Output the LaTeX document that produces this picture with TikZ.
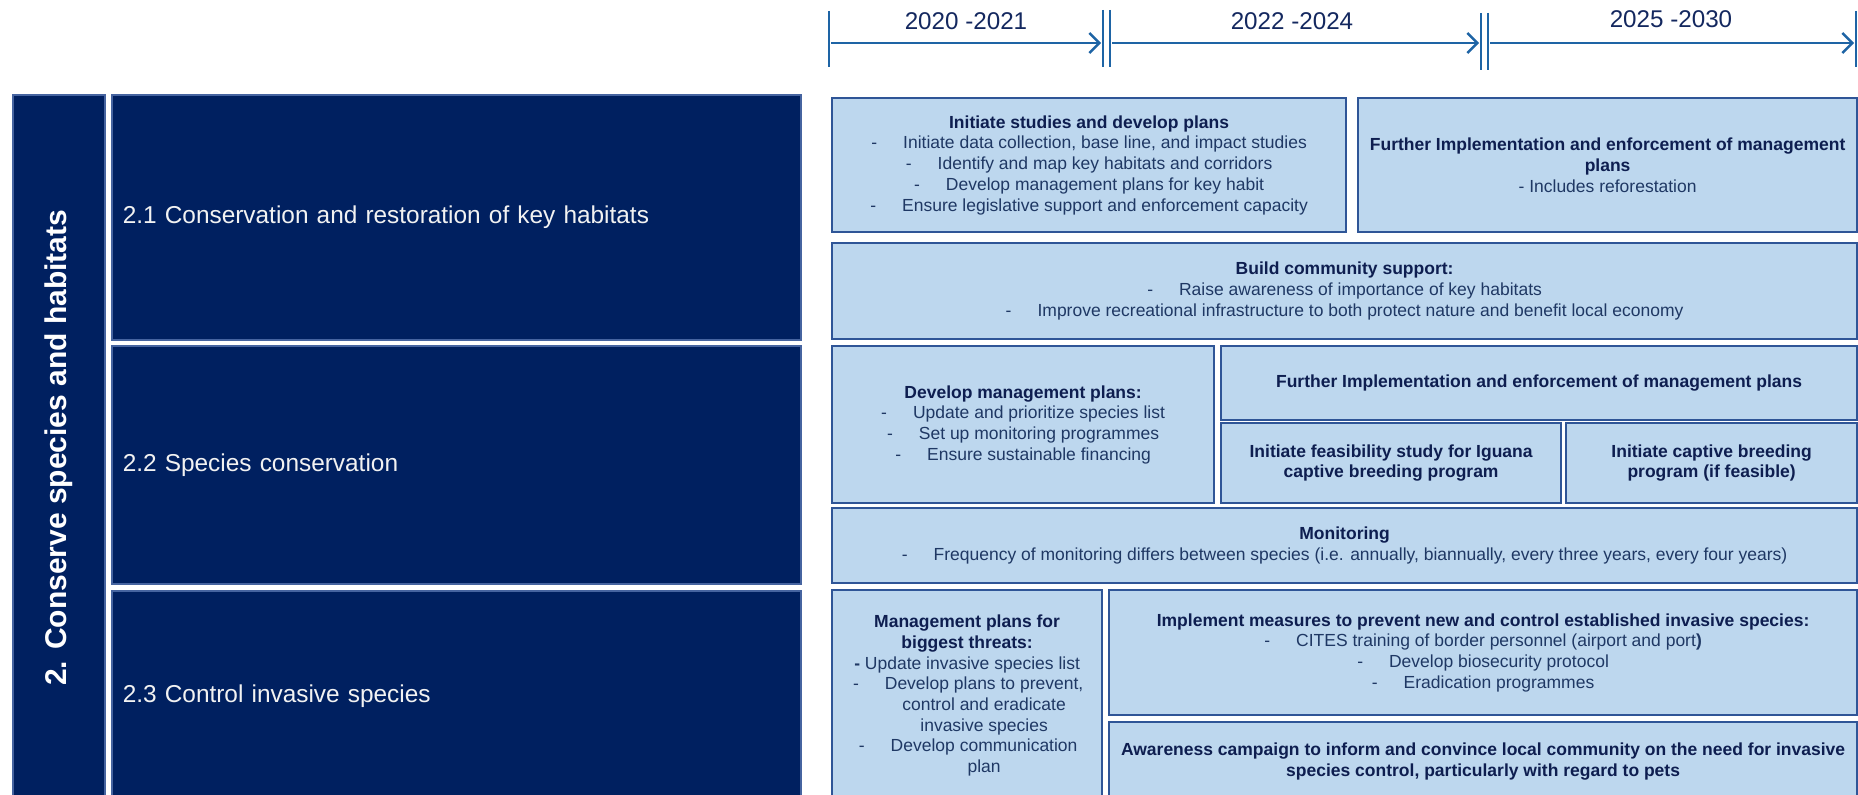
\documentclass[tikz,border=0pt]{standalone}
\usepackage{fontspec}
\setmainfont{Liberation Sans}
\usetikzlibrary{arrows.meta}

\definecolor{navy}{RGB}{0,32,96}
\definecolor{navyedge}{RGB}{70,100,160}
\definecolor{paleblue}{RGB}{189,215,238}
\definecolor{boxedge}{RGB}{47,85,151}
\definecolor{bodytext}{RGB}{31,56,100}
\definecolor{headtext}{RGB}{14,30,80}
\definecolor{lineblue}{RGB}{30,100,165}
\definecolor{yeartext}{RGB}{20,40,95}

% bullet dash followed by a tab-like gap
\newcommand\dsh{-\hspace{13pt}}
% bold heading line inside a light box
\newcommand\hd[1]{{\bfseries\color{headtext}#1}}

\begin{document}
\begin{tikzpicture}[x=0.5pt,y=-0.5pt,
  colbox/.style={draw=navyedge, line width=0.8pt, fill=navy, anchor=north west, inner sep=0pt},
  darkbox/.style={draw=navyedge, line width=0.8pt, fill=navy, text=white!95!black,
    inner xsep=5.5pt, inner ysep=0pt, anchor=north west, align=left,
    font=\fontsize{12.2}{14}\selectfont},
  lightbox/.style={draw=boxedge, line width=1.1pt, fill=paleblue, text=bodytext,
    anchor=north west, align=center, inner sep=0pt,
    font=\fontsize{8.75}{10.35}\selectfont},
  tickline/.style={draw=lineblue, line width=1.2pt},
  period/.style={draw=lineblue, line width=1.2pt,
    -{Straight Barb[length=5pt,width=10pt,line width=1.2pt]}},
  year/.style={text=yeartext, font=\fontsize{12.1}{14}\selectfont, inner sep=0pt},
]
\useasboundingbox (0,0) rectangle (1858,795);
\clip (0,0) rectangle (1858,795);

% ---------- timeline ----------
\coordinate (k0t) at (829,11);  \coordinate (k0b) at (829,67);
\coordinate (k1t) at (1103,10); \coordinate (k1b) at (1103,67);
\coordinate (k1u) at (1110,10); \coordinate (k1v) at (1110,67);
\coordinate (k2t) at (1481,13); \coordinate (k2b) at (1481,70);
\coordinate (k2u) at (1488,13); \coordinate (k2v) at (1488,70);
\coordinate (k3t) at (1856,11); \coordinate (k3b) at (1856,67);
\draw[tickline] (k0t) -- (k0b);
\draw[tickline] (k1t) -- (k1b);
\draw[tickline] (k1u) -- (k1v);
\draw[tickline] (k2t) -- (k2b);
\draw[tickline] (k2u) -- (k2v);
\draw[tickline] (k3t) -- (k3b);

\coordinate (a0) at (831,43);  \coordinate (a1) at (1101,43);
\coordinate (b0) at (1112,43); \coordinate (b1) at (1479,43);
\coordinate (c0) at (1490,43); \coordinate (c1) at (1854,43);
\draw[period] (a0) -- (a1);
\draw[period] (b0) -- (b1);
\draw[period] (c0) -- (c1);

\node[year] (y1) at (966,21) {2020 -2021};
\node[year] (y2) at (1292,21) {2022 -2024};
\node[year] (y3) at (1671,19) {2025 -2030};

% ---------- goal column and sub-goals ----------
\node[colbox, minimum width=46pt, minimum height=353pt] (col) at (12,94) {};
\node[rotate=90, text=white, font=\fontsize{15}{18}\selectfont\bfseries, inner sep=0pt]
  (goal) at (col.center) {2. Conserve species and habitats};

\node[darkbox, text width=333.5pt, minimum height=122.5pt] (r1) at (111,94)
  {2.1 Conservation and restoration of key habitats};
\node[darkbox, text width=333.5pt, minimum height=119pt] (r2) at (111,345)
  {2.2 Species conservation};
\node[darkbox, text width=333.5pt, minimum height=105pt] (r3) at (111,590)
  {2.3 Control invasive species};

% ---------- actions: 2.1 ----------
\node[lightbox, minimum width=257pt, minimum height=67pt] (s1) at (831,97)
  {\hd{Initiate studies and develop plans}\\
   \dsh Initiate data collection, base line, and impact studies\\
   \dsh Identify and map key habitats and corridors\\
   \dsh Develop management plans for key habit\\
   \dsh Ensure legislative support and enforcement capacity};
\node[lightbox, minimum width=249.5pt, minimum height=67pt] (s2) at (1357,97)
  {\hd{Further Implementation and enforcement of management}\\
   \hd{plans}\\
   - Includes reforestation};
\node[lightbox, minimum width=512.5pt, minimum height=48pt] (s3) at (831,242)
  {\hd{Build community support:}\\
   \dsh Raise awareness of importance of key habitats\\
   \dsh Improve recreational infrastructure to both protect nature and benefit local economy};

% ---------- actions: 2.2 ----------
\node[lightbox, minimum width=191pt, minimum height=78.5pt] (p1) at (831,345)
  {\hd{Develop management plans:}\\
   \dsh Update and prioritize species list\\
   \dsh Set up monitoring programmes\\
   \dsh Ensure sustainable financing};
\node[lightbox, minimum width=318pt, minimum height=37pt] (p2) at (1220,345)
  {\hd{Further Implementation and enforcement of management plans}};
\node[lightbox, minimum width=170pt, minimum height=40pt] (p3) at (1220,422)
  {\hd{Initiate feasibility study for Iguana}\\
   \hd{captive breeding program}};
\node[lightbox, minimum width=145.5pt, minimum height=40pt] (p4) at (1565,422)
  {\hd{Initiate captive breeding}\\
   \hd{program (if feasible)}};
\node[lightbox, minimum width=512.5pt, minimum height=37.5pt] (p5) at (831,507)
  {\hd{Monitoring}\\
   \dsh Frequency of monitoring differs between species (i.e. annually, biannually, every three years, every four years)};

% ---------- actions: 2.3 ----------
\node[lightbox, minimum width=135pt, minimum height=105.5pt] (v1) at (831,589)
  {\hd{Management plans for}\\
   \hd{biggest threats:}\\
   \textbf{-} Update invasive species list\\
   \hspace*{17pt}\llap{\dsh}Develop plans to prevent,\\
   \hspace*{17pt}control and eradicate\\
   \hspace*{17pt}invasive species\\
   \hspace*{17pt}\llap{\dsh}Develop communication\\
   \hspace*{17pt}plan};
\node[lightbox, minimum width=374pt, minimum height=62.5pt] (v2) at (1108,589)
  {\hd{Implement measures to prevent new and control established invasive species:}\\
   \dsh CITES training of border personnel (airport and port\textbf{)}\\
   \dsh Develop biosecurity protocol\\
   \dsh Eradication programmes};
\node[lightbox, minimum width=374pt, minimum height=39.5pt] (v3) at (1108,721)
  {\hd{Awareness campaign to inform and convince local community on the need for invasive}\\
   \hd{species control, particularly with regard to pets}};
\end{tikzpicture}
\end{document}
